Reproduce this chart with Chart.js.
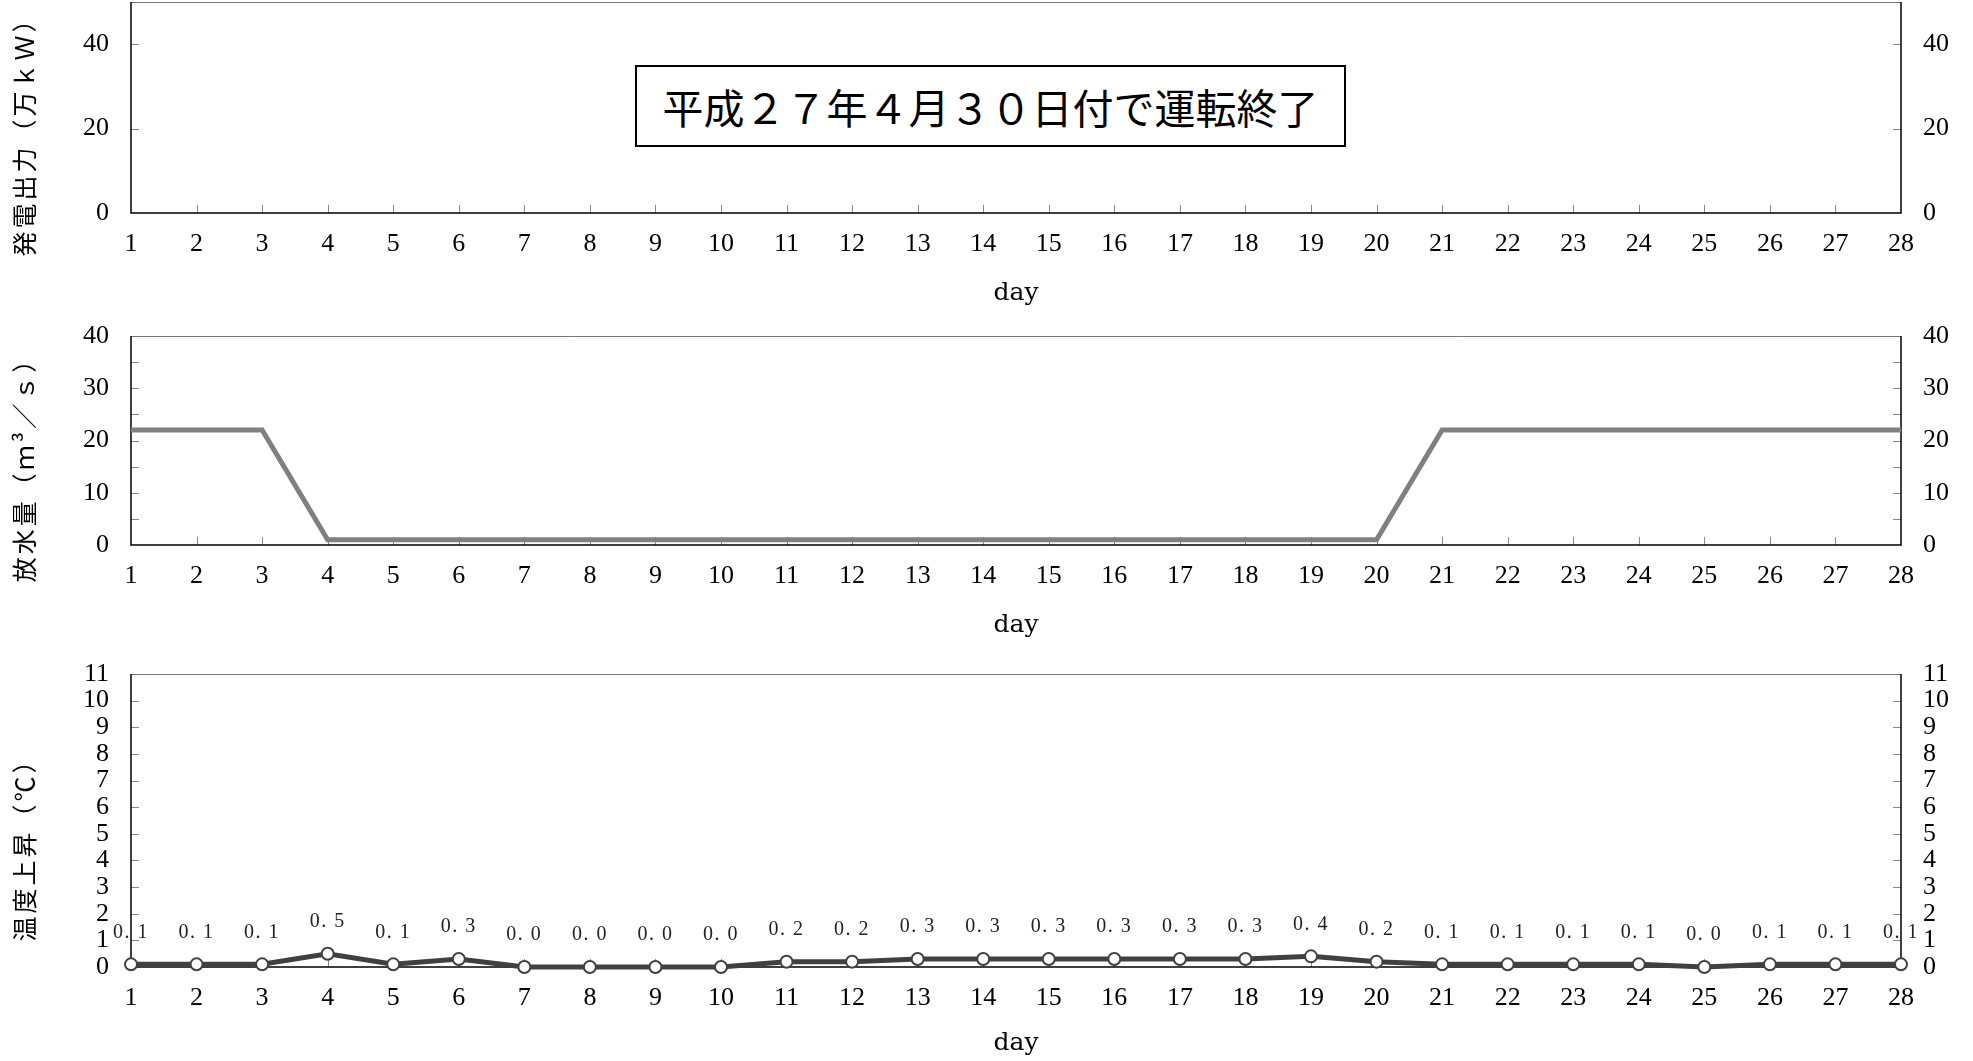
<!DOCTYPE html>
<html>
<head>
<meta charset="utf-8">
<script src="https://cdn.jsdelivr.net/npm/chart.js@4"></script>
<style>
  html, body { margin:0; padding:0; background:#fff; width:1973px; height:1061px; overflow:hidden; position:relative; }
  canvas { position:absolute; left:0; }
  #note {
    position:absolute; left:635px; top:65px; width:711px; height:82px;
    border:2px solid #000; box-sizing:border-box; background:#fff;
    font-family:"Noto Sans CJK JP", sans-serif; font-size:41px; color:#000;
    display:flex; align-items:center; justify-content:center;
  }
</style>
</head>
<body>
<canvas id="cPower" width="1973" height="351" style="top:-38px"></canvas>
<canvas id="cFlow" width="1973" height="349" style="top:296px"></canvas>
<canvas id="cTemp" width="1973" height="433" style="top:634px"></canvas>
<div id="note">平成２７年４月３０日付で運転終了</div>
<script>
// days of the month (x categories)
const days = [1,2,3,4,5,6,7,8,9,10,11,12,13,14,15,16,17,18,19,20,21,22,23,24,25,26,27,28]

// 発電出力 (万kW) - no output after shutdown, nothing plotted
const powerOutput = []
const powerTicks = [0,20,40]

// 放水量 (m3/s)
const discharge = [22,22,22,1,1,1,1,1,1,1,1,1,1,1,1,1,1,1,1,1,22,22,22,22,22,22,22,22]
const flowTicks = [0,10,20,30,40]
const flowMinor = [5,15,25,35]

// 温度上昇 (℃)
const tempRise = [0.1,0.1,0.1,0.5,0.1,0.3,0.0,0.0,0.0,0.0,0.2,0.2,0.3,0.3,0.3,0.3,0.3,0.3,0.4,0.2,0.1,0.1,0.1,0.1,0.0,0.1,0.1,0.1]
const tempTicks = [0,1,2,3,4,5,6,7,8,9,10,11]

const SERIF = '"Liberation Serif", "DejaVu Serif", serif'
const SERIF2 = '"DejaVu Serif", serif'
const JP = '"Noto Sans CJK JP", sans-serif'

// frame, inward tick marks and rotated y title
function panelPlugin(o){
  return {
    id: 'panel',
    beforeDatasetsDraw(chart){
      const {ctx, chartArea:a, scales} = chart
      ctx.save()
      ctx.strokeStyle = '#888'; ctx.lineWidth = 1
      ctx.beginPath()
      scales.x.ticks.forEach((t,i)=>{
        if (i===0 || i===scales.x.ticks.length-1) return
        const x = Math.round(scales.x.getPixelForTick(i)) + 0.5
        ctx.moveTo(x, a.bottom); ctx.lineTo(x, a.bottom-8)
      })
      o.marks.forEach(v=>{
        const y = Math.round(scales.y.getPixelForValue(v)) + 0.5
        ctx.moveTo(a.left, y); ctx.lineTo(a.left+8, y)
        ctx.moveTo(a.right, y); ctx.lineTo(a.right-8, y)
      })
      ctx.stroke()
      // frame
      ctx.strokeStyle = '#777'
      ctx.beginPath(); ctx.moveTo(a.left, a.top+0.5); ctx.lineTo(a.right, a.top+0.5); ctx.stroke()
      ctx.strokeStyle = '#000'; ctx.lineWidth = 1.5
      ctx.beginPath()
      ctx.moveTo(a.left, a.top); ctx.lineTo(a.left, a.bottom); ctx.lineTo(a.right, a.bottom); ctx.lineTo(a.right, a.top)
      ctx.stroke()
      // y title
      ctx.fillStyle = '#000'
      ctx.font = '25px ' + JP
      ctx.letterSpacing = '3px'
      ctx.textAlign = 'center'; ctx.textBaseline = 'middle'
      ctx.translate(24, (a.top+a.bottom)/2 + 23)
      ctx.rotate(-Math.PI/2)
      ctx.fillText(o.title, 0, 0)
      ctx.restore()
    }
  }
}

const pointLabels = {
  id: 'pointLabels',
  afterDatasetsDraw(chart){
    const ctx = chart.ctx
    const meta = chart.getDatasetMeta(0)
    ctx.save()
    ctx.fillStyle = '#222'
    ctx.font = '20px ' + SERIF
    ctx.letterSpacing = '1.5px'
    ctx.textAlign = 'center'; ctx.textBaseline = 'middle'
    meta.data.forEach((pt,i)=>{
      const txt = tempRise[i].toFixed(1).replace('.', '. ')
      ctx.fillText(txt, pt.x, pt.y - 32)
    })
    ctx.restore()
  }
}

function makePanel(id, o){
  const yBase = {
    type: 'linear', min: o.min, max: o.max,
    afterBuildTicks: s => { s.ticks = o.ticks.map(v=>({value:v})) },
    grid: { display:false, drawTicks:false },
    border: { display:false },
    ticks: { font:{family:SERIF, size:26}, color:'#000', padding:22, autoSkip:false }
  }
  return new Chart(document.getElementById(id), {
    type: 'line',
    data: { labels: days, datasets: o.datasets },
    options: {
      responsive: false, animation: false, devicePixelRatio: 1,
      layout: { padding: { top:40, left:0, right:0, bottom:0 } },
      plugins: { legend:{display:false}, tooltip:{enabled:false} },
      scales: {
        x: {
          type: 'category', offset: false,
          grid: { display:false, drawTicks:false }, border:{display:false},
          ticks: { font:{family:SERIF, size:26}, color:'#000', padding:16, maxRotation:0, autoSkip:false },
          title: { display:true, text:'day', font:{family:SERIF2, size:25}, color:'#000', padding:{top:0, bottom:o.dayPad} },
          afterFit: s => { s.height = 100 }
        },
        y: Object.assign({}, yBase, { position:'left', afterFit: s => { s.width = 131 } }),
        y2: Object.assign({}, yBase, { position:'right', afterFit: s => { s.width = 72 } })
      }
    },
    plugins: [panelPlugin(o)].concat(o.extra || [])
  })
}

makePanel('cPower', {
  min:0, max:50, ticks:powerTicks, marks:[20,40], title:'発電出力（万ｋＷ）', dayPad:5,
  datasets: [{ data: powerOutput, borderColor:'#808080', borderWidth:5, pointRadius:0, clip:false }]
})

makePanel('cFlow', {
  min:0, max:40, ticks:flowTicks, marks:flowTicks.slice(1,-1).concat(flowMinor), title:'放水量（ｍ³／ｓ）', dayPad:5,
  datasets: [{ data: discharge, borderColor:'#808080', borderWidth:5, pointRadius:0, tension:0, clip:false }]
})

makePanel('cTemp', {
  min:0, max:11, ticks:tempTicks, marks:tempTicks.slice(1,-1), title:'温度上昇（℃）', dayPad:9,
  datasets: [{ data: tempRise, borderColor:'#404040', borderWidth:5, tension:0, clip:false,
    pointRadius:6, pointBackgroundColor:'#fff', pointBorderColor:'#404040', pointBorderWidth:2 }],
  extra: [pointLabels]
})
</script>
</body>
</html>
